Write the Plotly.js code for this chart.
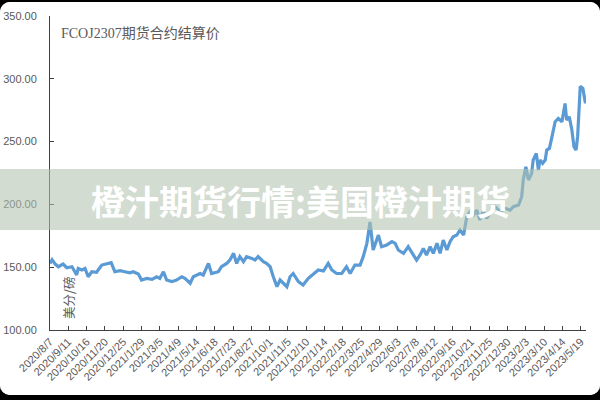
<!DOCTYPE html>
<html>
<head>
<meta charset="utf-8">
<script src="https://cdn.plot.ly/plotly-3.0.1.min.js"></script>
<style>
  html, body { margin: 0; padding: 0; background: #000; width: 600px; height: 400px; overflow: hidden; }
  #chart { position: absolute; left: 0; top: 2px; width: 600px; height: 393px; background: #fff; border-radius: 10px; overflow: hidden; }
</style>
</head>
<body>
<div id="chart"></div>
<script>
const chartTitle = 'FCOJ2307期货合约结算价';
const unitLabel = '美分/磅';
const watermark = '橙汁期货行情:美国橙汁期货';

const dates = [
  '2020-08-07','2020-08-11','2020-08-17','2020-08-23','2020-09-01','2020-09-08','2020-09-18','2020-09-27','2020-09-30','2020-10-07',
  '2020-10-13','2020-10-19','2020-10-26','2020-11-04','2020-11-14','2020-11-23','2020-12-02','2020-12-09','2020-12-19','2020-12-28',
  '2021-01-07','2021-01-13','2021-01-23','2021-01-29','2021-02-08','2021-02-18','2021-02-27','2021-03-05','2021-03-12','2021-03-18',
  '2021-03-28','2021-04-06','2021-04-16','2021-04-22','2021-05-02','2021-05-08','2021-05-21','2021-05-27','2021-06-06','2021-06-12',
  '2021-06-25','2021-07-01','2021-07-11','2021-07-17','2021-07-24','2021-07-30','2021-08-05','2021-08-12','2021-08-18','2021-08-28',
  '2021-09-03','2021-09-09','2021-09-19','2021-09-25','2021-10-02','2021-10-08','2021-10-15','2021-10-21','2021-10-27','2021-11-03',
  '2021-11-09','2021-11-15','2021-11-25','2021-12-04','2021-12-14','2021-12-24','2022-01-02','2022-01-12','2022-01-21','2022-01-28',
  '2022-02-06','2022-02-16','2022-02-25','2022-03-04','2022-03-13','2022-03-23','2022-03-29','2022-04-05','2022-04-11','2022-04-17',
  '2022-04-27','2022-05-03','2022-05-13','2022-05-23','2022-05-29','2022-06-04','2022-06-14','2022-06-23','2022-07-03','2022-07-09',
  '2022-07-16','2022-07-22','2022-07-28','2022-08-04','2022-08-10','2022-08-17','2022-08-23','2022-08-29','2022-09-05','2022-09-11',
  '2022-09-17','2022-09-24','2022-09-30','2022-10-07','2022-10-13','2022-10-19','2022-10-26','2022-11-01','2022-11-07','2022-11-14',
  '2022-11-20','2022-11-27','2022-12-06','2022-12-16','2022-12-25','2023-01-04','2023-01-10','2023-01-20','2023-01-26','2023-01-29',
  '2023-02-03','2023-02-08','2023-02-14','2023-02-17','2023-02-23','2023-02-27','2023-03-02','2023-03-07','2023-03-12','2023-03-15',
  '2023-03-20','2023-03-25','2023-03-31','2023-04-06','2023-04-13','2023-04-19','2023-04-22','2023-04-27','2023-05-02','2023-05-06',
  '2023-05-10','2023-05-13','2023-05-18','2023-05-23','2023-05-25','2023-05-28'
];
const prices = [
  153,156,152.5,150.4,152.5,149.6,150.4,143.8,149,147.8,
  149,142.4,146.4,146,151.7,152.5,153.6,146.4,147.2,146.4,
  145.6,146.4,144.6,139.8,141.1,140.3,142.4,141.1,146.4,139.8,
  138.5,139.8,142.4,141.1,137.2,142.4,145,143.8,153,145,
  146.4,150.4,153,155.7,161,153,158.4,154.4,158.4,157,
  155.7,158.4,154.4,153,150.4,142.4,134.5,139.8,137.2,134.5,
  142.4,145,138.5,135.8,141.1,145,147.8,147,153,147.8,
  145,145,150.4,145,151.7,151.7,158.4,169,186,163.7,
  175.6,166.3,167.7,170.3,169,163.7,161,166.3,159.7,155.7,
  160,165,159.7,166.3,161,169,161,171.6,163.7,170.3,
  174.3,175.6,179.6,175.6,190.2,194.2,191.6,195.5,187.6,195.5,
  188.9,192.9,198.2,194.2,196.9,195.5,198.2,199.5,206.1,219.4,
  230,219.4,224.7,235.3,240.6,227.4,235.3,232.7,235.3,243.3,
  244.6,253.9,265.8,268.4,265.8,280.4,267.1,269.7,259.2,245.9,
  243.3,253.9,294,292.4,285.8,280.4
];

const tickLabels = [
  '2020/8/7','2020/9/11','2020/10/16','2020/11/20','2020/12/25','2021/1/29','2021/3/5','2021/4/9','2021/5/14','2021/6/18',
  '2021/7/23','2021/8/27','2021/10/1','2021/11/5','2021/12/10','2022/1/14','2022/2/18','2022/3/25','2022/4/29','2022/6/3',
  '2022/7/8','2022/8/12','2022/9/16','2022/10/21','2022/11/25','2022/12/30','2023/2/3','2023/3/10','2023/4/14','2023/5/19'
];
const tickVals = tickLabels.map(s => {
  const p = s.split('/');
  return p[0] + '-' + p[1].padStart(2, '0') + '-' + p[2].padStart(2, '0');
});

const axisColor = '#404040';
const textColor = '#595959';

const trace = {
  x: dates, y: prices, type: 'scatter', mode: 'lines',
  line: { color: '#5b9bd5', width: 3.2 },
  hoverinfo: 'skip'
};

const layout = {
  width: 600, height: 393,
  margin: { l: 50, r: 14, t: 14, b: 65 },
  paper_bgcolor: '#ffffff', plot_bgcolor: '#ffffff',
  showlegend: false,
  font: { family: 'Liberation Sans, Noto Sans CJK SC, sans-serif', color: textColor },
  xaxis: {
    type: 'date',
    range: ['2020-08-07', '2023-05-29'],
    tickvals: tickVals, ticktext: tickLabels,
    tickangle: -45,
    tickfont: { size: 11, color: textColor },
    ticks: 'inside', ticklen: 4, tickcolor: axisColor,
    showline: true, linecolor: axisColor, linewidth: 1,
    showgrid: false, zeroline: false
  },
  yaxis: {
    range: [100, 350], dtick: 50, tickformat: '.2f',
    tickfont: { size: 11, color: textColor },
    ticks: 'inside', ticklen: 4, tickcolor: axisColor,
    ticklabelstandoff: 10,
    showline: true, linecolor: axisColor, linewidth: 1,
    showgrid: false, zeroline: false
  },
  shapes: [{
    type: 'rect', xref: 'paper', yref: 'paper',
    x0: -0.1, x1: 1.1,
    y0: (328 - 228) / 314, y1: (328 - 167) / 314,
    fillcolor: 'rgba(177,193,174,0.57)', line: { width: 0 }, layer: 'above'
  }],
  annotations: [
    {
      text: chartTitle, xref: 'paper', yref: 'paper',
      x: 9 / 536, y: (328 - 31) / 314, xanchor: 'left', yanchor: 'middle', showarrow: false,
      font: { family: 'Liberation Serif, Noto Sans CJK SC, serif', size: 14, color: textColor }
    },
    {
      text: unitLabel, xref: 'paper', yref: 'paper', textangle: -90,
      x: 18 / 536, y: (328 - 296) / 314, xanchor: 'center', yanchor: 'middle', showarrow: false,
      font: { family: 'Noto Sans CJK SC, sans-serif', size: 12.5, color: textColor }
    },
    {
      text: watermark, xref: 'paper', yref: 'paper',
      x: 250 / 536, y: (328 - 198) / 314, xanchor: 'center', yanchor: 'middle', showarrow: false,
      font: { family: 'Noto Sans CJK SC, sans-serif', size: 34, color: '#ffffff', weight: 700 }
    }
  ]
};

Plotly.newPlot('chart', [trace], layout, { displayModeBar: false, staticPlot: true });
</script>
</body>
</html>
